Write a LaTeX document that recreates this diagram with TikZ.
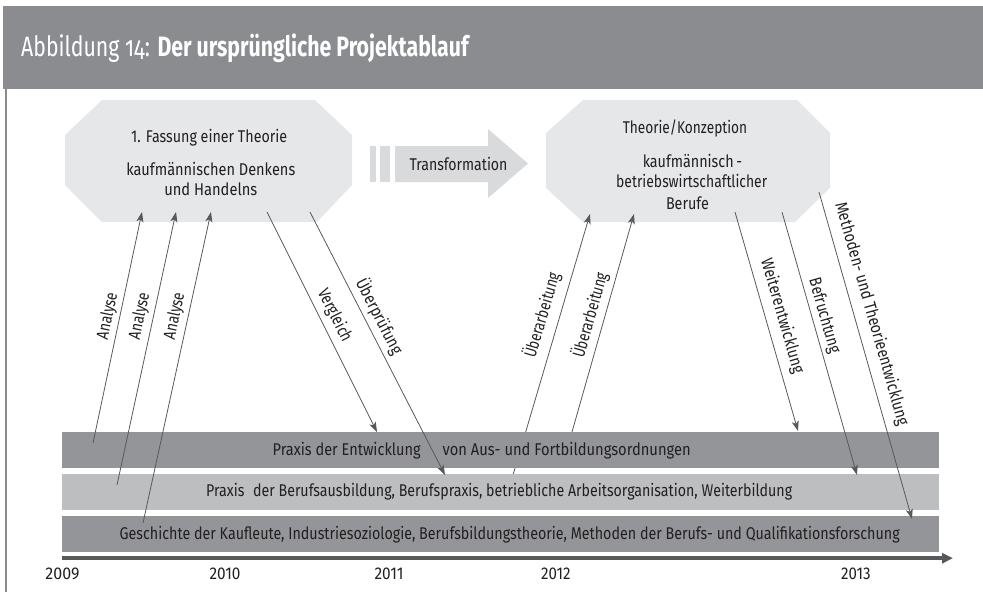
\documentclass[tikz,border=0pt]{standalone}
\usepackage{fontspec}
\usepackage{graphicx}
\setmainfont{Fira Sans}[FakeStretch=0.85]
\usetikzlibrary{arrows.meta}
\newcommand\fitw[2]{\resizebox{#1pt}{\height}{#2}}
\definecolor{hdr}{HTML}{8B8C90}
\definecolor{octc}{HTML}{E6E7E8}
\definecolor{trc}{HTML}{D9DADB}
\definecolor{banddark}{HTML}{939598}
\definecolor{bandlight}{HTML}{BCBEC0}
\definecolor{lineg}{HTML}{58595B}
\definecolor{txtc}{HTML}{231F20}
\tikzset{
  txt/.style={inner sep=0pt, text=txtc, font=\fontsize{17}{20}\selectfont, anchor=base},
  lab/.style={inner sep=0pt, text=txtc, font=\fontsize{17}{20}\selectfont},
  con/.style={draw=lineg, line width=0.8pt, -{Stealth[length=10pt,width=7pt,inset=2.5pt]}},
}
\begin{document}
\begin{tikzpicture}[x=1pt,y=1pt]
\useasboundingbox (0,0) rectangle (983,-592);
% header
\fill[hdr] (3.3,-5.7) rectangle (983,-89);
\draw[hdr, line width=1.8pt] (6,-89) -- (6,-592);
\node[anchor=base west, inner sep=0pt, text=white, font=\fontsize{28}{32}\selectfont] (title) at (21,-56)
  {\fitw{449}{\addfontfeatures{Numbers=OldStyle}Abbildung 14: \textbf{Der ursprüngliche Projektablauf}}};
% octagon 1
\fill[octc] (102,-100) -- (315,-100) -- (352,-135) -- (352,-185) -- (317,-222) -- (102,-222) -- (65,-185) -- (65,-135) -- cycle;
\node[txt] (o1a) at (209.2,-142) {\fitw{156}{1. Fassung einer Theorie}};
\node[txt] (o1b) at (210.8,-175) {\fitw{169}{kaufmännischen Denkens}};
\node[txt] (o1c) at (210.8,-195) {\fitw{93}{und Handelns}};
% octagon 2
\fill[octc] (583,-100) -- (797,-100) -- (830,-133) -- (830,-188) -- (795,-222) -- (583,-222) -- (546,-188) -- (546,-133) -- cycle;
\node[txt] (o2a) at (685,-133) {\fitw{124.5}{Theorie/Konzeption}};
\node[txt] (o2b) at (692.5,-167) {\fitw{99.5}{kaufmännisch\,-}};
\node[txt] (o2c) at (691.7,-187) {\fitw{151}{betriebswirtschaftlicher}};
\node[txt] (o2d) at (687.5,-209) {\fitw{43}{Berufe}};
% transformation arrow
\fill[trc] (370,-146) rectangle (376,-182);
\fill[trc] (379.5,-146) rectangle (390,-182);
\fill[trc] (395,-146) -- (488,-146) -- (488,-129) -- (528,-163.5) -- (488,-198) -- (488,-182) -- (395,-182) -- cycle;
\node[txt] (tr) at (458.5,-170) {\fitw{98}{Transformation}};
% coordinates
\coordinate (a1s) at (93,-443);  \coordinate (a1e) at (142,-212);
\coordinate (a2s) at (117,-485); \coordinate (a2e) at (176,-212);
\coordinate (a3s) at (143,-523); \coordinate (a3e) at (211,-212);
\coordinate (vs) at (267,-212);  \coordinate (ve) at (377,-432);
\coordinate (us) at (310,-212);  \coordinate (ue) at (445,-475);
\coordinate (b1s) at (513,-475); \coordinate (b1e) at (590,-214);
\coordinate (b2s) at (572,-432); \coordinate (b2e) at (634,-214);
\coordinate (ws) at (735,-212);  \coordinate (we) at (798,-431);
\coordinate (bs) at (782,-212);  \coordinate (be) at (857,-475);
\coordinate (ms) at (819,-192);  \coordinate (me) at (912,-519);
\coordinate (tl0) at (62,-558.2); \coordinate (tl1) at (953,-558.2);
% line that runs behind the first band
\draw[con] (b1s) -- (b1e);
% bands
\fill[banddark] (62,-432) rectangle (939,-468);
\fill[bandlight] (62,-474) rectangle (939,-510);
\fill[banddark] (62,-516) rectangle (939,-552);
\node[txt] (band1a) at (346.7,-455) {\fitw{148}{Praxis der Entwicklung}};
\node[txt] (band1b) at (566.7,-455) {\fitw{248}{von Aus- und Fortbildungsordnungen}};
\node[txt] (band2) at (499.2,-496) {\fitw{586}{Praxis\hspace{5pt} der Berufsausbildung, Berufspraxis, betriebliche Arbeitsorganisation, Weiterbildung}};
\node[txt] (band3) at (509.7,-539) {\fitw{780}{Geschichte der Kaufleute, Industriesoziologie, Berufsbildungstheorie, Methoden der Berufs- und Qualifikationsforschung}};
% timeline
\draw[lineg, line width=4.5pt, -{Triangle[length=11pt,width=10pt]}] (tl0) -- (tl1);
\node[txt] (y09) at (62.5,-579.5) {\fitw{34}{2009}};
\node[txt] (y10) at (225,-579.5) {\fitw{31}{2010}};
\node[txt] (y11) at (389,-579.5) {\fitw{29}{2011}};
\node[txt] (y12) at (555.8,-579.5) {\fitw{29.5}{2012}};
\node[txt] (y13) at (855.8,-579.5) {\fitw{29.5}{2013}};
% connectors
\draw[con] (a1s) -- (a1e);
\draw[con] (a2s) -- (a2e);
\draw[con] (a3s) -- (a3e);
\draw[con] (vs) -- (ve);
\draw[con] (us) -- (ue);
\draw[con] (b2s) -- (b2e);
\draw[con] (ws) -- (we);
\draw[con] (bs) -- (be);
\draw[con] (ms) -- (me);
% labels
\node[lab, rotate=78] (la1) at (108,-316) {\fitw{47.5}{Analyse}};
\node[lab, rotate=78] (la2) at (140,-316) {\fitw{47.5}{Analyse}};
\node[lab, rotate=78] (la3) at (175,-316) {\fitw{47.5}{Analyse}};
\node[lab, rotate=-63.4] (lv) at (334.5,-315.5) {\fitw{57}{Vergleich}};
\node[lab, rotate=-62.8] (lu) at (379.5,-316.5) {\fitw{83}{Überprüfung}};
\node[lab, rotate=73.6] (lb1) at (542,-315) {\fitw{87.5}{Überarbeitung}};
\node[lab, rotate=74.1] (lb2) at (590,-315) {\fitw{87.5}{Überarbeitung}};
\node[lab, rotate=-73.9] (lw) at (782,-316) {\fitw{118.5}{Weiterentwicklung}};
\node[lab, rotate=-74.1] (lbf) at (824,-316) {\fitw{77.5}{Befruchtung}};
\node[lab, rotate=-74.1] (lm) at (871.5,-314) {\fitw{231}{Methoden- und Theorieentwicklung}};
\end{tikzpicture}
\end{document}
